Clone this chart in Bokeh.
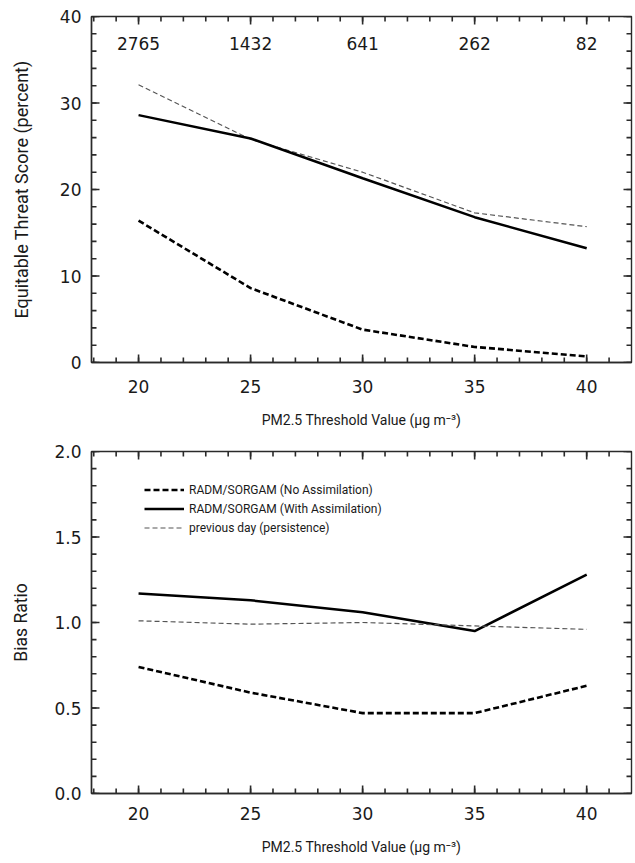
from bokeh.plotting import figure
from bokeh.layouts import column
from bokeh.models import FixedTicker, Range1d, NumeralTickFormatter
from bokeh.core.properties import value
from bokeh.embed import file_html
from bokeh.resources import INLINE
import numpy as np

# ---------------- data ----------------
thresholds = [20, 25, 30, 35, 40]
obs_counts = ["2765", "1432", "641", "262", "82"]

ets_no_assim = [16.4, 8.6, 3.8, 1.8, 0.7]
ets_with_assim = [28.6, 25.9, 21.3, 16.8, 13.2]
ets_persistence = [32.1, 25.8, 22.0, 17.3, 15.7]

bias_no_assim = [0.74, 0.59, 0.47, 0.47, 0.63]
bias_with_assim = [1.17, 1.13, 1.06, 0.95, 1.28]
bias_persistence = [1.01, 0.99, 1.00, 0.98, 0.96]

series_labels = ["RADM/SORGAM (No Assimilation)",
                 "RADM/SORGAM (With Assimilation)",
                 "previous day (persistence)"]
x_title = "PM2.5 Threshold Value (µg m⁻³)"
ets_title = "Equitable Threat Score (percent)"
bias_title = "Bias Ratio"

x_major = [20, 25, 30, 35, 40]
x_minor = list(range(18, 42))
ets_major = [0, 10, 20, 30, 40]
ets_minor = list(range(0, 41, 2))
bias_major = [0.0, 0.5, 1.0, 1.5, 2.0]
bias_minor = [round(v, 1) for v in np.arange(0, 2.01, 0.1)]

X_START, X_END = 17.9, 42.0
ETS_MAX = 40
BIAS_MAX = 2.0
FRAME_W = 540
FRAME_H1, FRAME_H2 = 346, 342

TICK_FONT = "DejaVu Sans"
TITLE_FONT = "Roboto"
AX_COLOR = "#2a2a2a"
TXT_COLOR = "#1a1a1a"
MAJOR_LEN, MINOR_LEN = 8, 5


def style_axis(ax):
    ax.major_tick_in = 0
    ax.major_tick_out = 0
    ax.minor_tick_in = 0
    ax.minor_tick_out = 0
    ax.axis_line_color = AX_COLOR
    ax.axis_line_width = 1.4
    ax.major_label_text_font = TICK_FONT
    ax.major_label_text_font_size = "17px"
    ax.major_label_text_color = TXT_COLOR
    ax.axis_label_text_font = TITLE_FONT
    ax.axis_label_text_font_style = "normal"
    ax.axis_label_text_color = TXT_COLOR


def inner_ticks(p, ymaj, ymin, ymax, fh):
    """Inward tick marks on all four sides of the frame (lengths in pixels)."""
    ux = (X_END - X_START) / FRAME_W   # data units per pixel
    uy = ymax / fh
    for ticks, length in ((x_minor, MINOR_LEN), (x_major, MAJOR_LEN)):
        n = len(ticks)
        p.segment(x0=ticks, y0=[0] * n, x1=ticks, y1=[length * uy] * n,
                  line_color=AX_COLOR, line_width=1.6)
        p.segment(x0=ticks, y0=[ymax] * n, x1=ticks,
                  y1=[ymax - length * uy] * n,
                  line_color=AX_COLOR, line_width=1.6)
    for ticks, length in ((ymin, MINOR_LEN), (ymaj, MAJOR_LEN)):
        n = len(ticks)
        p.segment(x0=[X_START] * n, y0=ticks, x1=[X_START + length * ux] * n,
                  y1=ticks, line_color=AX_COLOR, line_width=1.6)
        p.segment(x0=[X_END] * n, y0=ticks, x1=[X_END - length * ux] * n,
                  y1=ticks, line_color=AX_COLOR, line_width=1.6)


def make_fig(ymax, fh, top, bottom):
    p = figure(frame_width=FRAME_W, frame_height=fh,
               x_range=Range1d(X_START, X_END), y_range=Range1d(0, ymax),
               output_backend="svg", toolbar_location=None,
               min_border_left=91, min_border_right=2,
               min_border_top=top, min_border_bottom=bottom,
               background_fill_color="white", border_fill_color="white",
               outline_line_color=AX_COLOR, outline_line_width=1.4)
    p.grid.visible = False
    return p


# ---------------- top panel: ETS ----------------
p1 = make_fig(ETS_MAX, FRAME_H1, 16, 77)
p1.xaxis.ticker = FixedTicker(ticks=x_major, minor_ticks=x_minor)
p1.yaxis.ticker = FixedTicker(ticks=ets_major, minor_ticks=ets_minor)
p1.xaxis.axis_label = x_title
p1.yaxis.axis_label = ets_title
style_axis(p1.xaxis[0])
style_axis(p1.yaxis[0])
p1.xaxis.axis_label_text_font_size = "14px"
p1.yaxis.axis_label_text_font_size = "18px"
p1.xaxis.major_label_standoff = 17
p1.xaxis.axis_label_standoff = 16
p1.yaxis.major_label_standoff = 10
p1.yaxis.axis_label_standoff = 25

inner_ticks(p1, ets_major, ets_minor, ETS_MAX, FRAME_H1)

p1.line(thresholds, ets_persistence, line_color="#555555", line_width=1.2,
        line_dash="5 3")
p1.line(thresholds, ets_with_assim, line_color="black", line_width=2.5)
p1.line(thresholds, ets_no_assim, line_color="black", line_width=2.6,
        line_dash="6 3")

p1.text(x=thresholds, y=[ETS_MAX] * len(thresholds), text=obs_counts,
        y_offset=27, text_align="center", text_baseline="middle",
        text_font=value(TICK_FONT), text_font_size="17px",
        text_color=TXT_COLOR)

# ---------------- bottom panel: Bias ----------------
p2 = make_fig(BIAS_MAX, FRAME_H2, 12, 61)
p2.xaxis.ticker = FixedTicker(ticks=x_major, minor_ticks=x_minor)
p2.yaxis.ticker = FixedTicker(ticks=bias_major, minor_ticks=bias_minor)
p2.yaxis.formatter = NumeralTickFormatter(format="0.0")
p2.xaxis.axis_label = x_title
p2.yaxis.axis_label = bias_title
style_axis(p2.xaxis[0])
style_axis(p2.yaxis[0])
p2.xaxis.axis_label_text_font_size = "14px"
p2.yaxis.axis_label_text_font_size = "17.5px"
p2.xaxis.major_label_standoff = 13
p2.xaxis.axis_label_standoff = 16
p2.yaxis.major_label_standoff = 10
p2.yaxis.axis_label_standoff = 20

inner_ticks(p2, bias_major, bias_minor, BIAS_MAX, FRAME_H2)

p2.line(thresholds, bias_no_assim, line_color="black", line_width=2.6,
        line_dash="6 3", legend_label=series_labels[0])
p2.line(thresholds, bias_with_assim, line_color="black", line_width=2.5,
        legend_label=series_labels[1])
p2.line(thresholds, bias_persistence, line_color="#555555", line_width=1.2,
        line_dash="5 3", legend_label=series_labels[2])

lg = p2.legend[0]
lg.location = (53, 257)
lg.border_line_color = None
lg.background_fill_alpha = 0
lg.padding = 5
lg.spacing = 2
lg.margin = 0
lg.glyph_width = 40
lg.glyph_height = 17
lg.label_height = 17
lg.label_standoff = 5
lg.label_text_font = TITLE_FONT
lg.label_text_font_size = "12px"
lg.label_text_color = TXT_COLOR

layout = column(p1, p2)
open("out.html", "w").write(file_html(layout, INLINE))
